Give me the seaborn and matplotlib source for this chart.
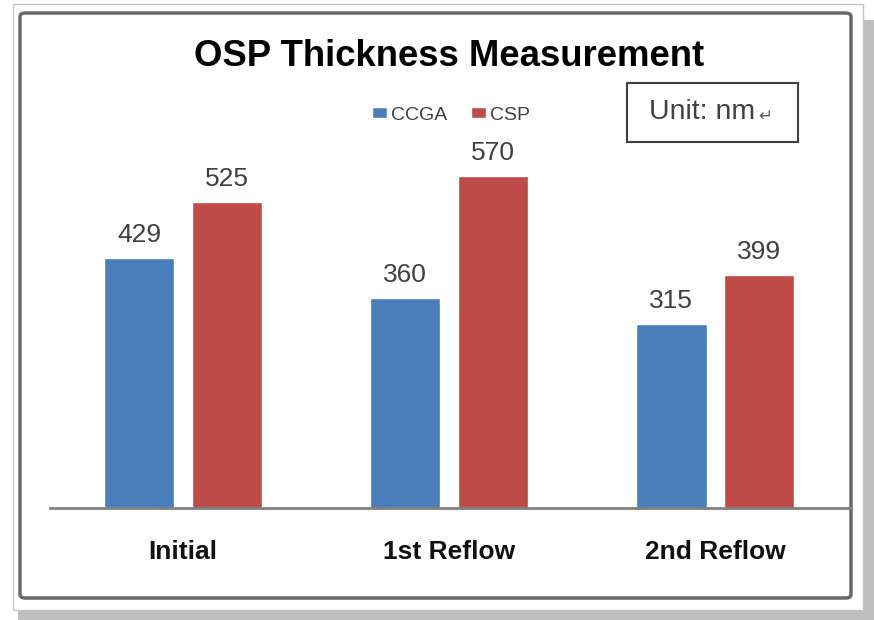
import pandas as pd
import seaborn as sns
import matplotlib.pyplot as plt
from matplotlib.patches import Rectangle, FancyBboxPatch

# chart values
categories = ['Initial', '1st Reflow', '2nd Reflow']
series = ['CCGA', 'CSP']
ccga_nm = [429, 360, 315]
csp_nm = [525, 570, 399]

df = pd.DataFrame({
    'stage': categories * 2,
    'series': [series[0]] * 3 + [series[1]] * 3,
    'thickness': ccga_nm + csp_nm,
})

sns.set_style('white')
plt.rcParams['font.family'] = ['Liberation Sans', 'DejaVu Sans']

W, H = 874, 620
fig = plt.figure(figsize=(W / 100, H / 100), dpi=100)


def fx(x):
    return x / W


def fy(y):
    return 1 - y / H


# frame: shadow, white page, rounded inner border (kept behind the axes)
fig.add_artist(Rectangle((fx(18), fy(620)), fx(874) - fx(18), fy(20) - fy(620),
                         transform=fig.transFigure, facecolor='#c0c0c0', edgecolor='none', zorder=-3))
fig.add_artist(Rectangle((fx(13), fy(610)), fx(863) - fx(13), fy(4) - fy(610),
                         transform=fig.transFigure, facecolor='white', edgecolor='#c4c4c4', lw=1, zorder=-2))
fig.add_artist(FancyBboxPatch((fx(20), fy(598)), fx(851) - fx(20), fy(13) - fy(598),
                              boxstyle='round,pad=0,rounding_size=0.006', transform=fig.transFigure,
                              facecolor='white', edgecolor='#6a6a6a', lw=2.5, zorder=-1))

ax = fig.add_axes([fx(50), fy(508), fx(851) - fx(50), fy(60) - fy(508)])
ax.set_zorder(2)
ax.set_facecolor('none')
sns.barplot(data=df, x='stage', y='thickness', hue='series', hue_order=series,
            palette=['#4a7ebb', '#be4b48'], width=0.66, gap=0.2, saturation=1, ax=ax)

px_per_nm = 250 / 429
ax.set_ylim(0, (508 - 60) / px_per_nm)
ax.set_xlim(-0.5, 2.51)

for cont in ax.containers:
    ax.bar_label(cont, padding=8, fontsize=19, color='#404040')

ax.set_xlabel('')
ax.set_ylabel('')
ax.set_yticks([])
ax.tick_params(axis='x', length=0, pad=23)
for lab in ax.get_xticklabels():
    lab.set_fontsize(19)
    lab.set_fontweight('bold')
    lab.set_color('#111111')
for s in ['left', 'right', 'top']:
    ax.spines[s].set_visible(False)
ax.spines['bottom'].set_color('#808080')
ax.spines['bottom'].set_linewidth(2)

handles, labels = ax.get_legend_handles_labels()
ax.legend(handles, labels, loc='center', bbox_to_anchor=(fx(451), fy(115)),
          bbox_transform=fig.transFigure, ncol=2, frameon=False, fontsize=14,
          handlelength=0.8, handleheight=0.45, handletextpad=0.2, columnspacing=1.2,
          labelcolor='#404040')

fig.text(fx(449), fy(56), 'OSP Thickness Measurement', ha='center', va='center',
         fontsize=26.3, fontweight='bold', color='black')

# unit box
fig.add_artist(Rectangle((fx(627), fy(142)), fx(798) - fx(627), fy(83) - fy(142),
                         transform=fig.transFigure, facecolor='white', edgecolor='#404040',
                         lw=1.5, zorder=3))
fig.text(fx(649), fy(112), 'Unit: nm', ha='left', va='center', fontsize=20.5, color='#404040',
         zorder=4)
fig.text(fx(758), fy(116), '↵', ha='left', va='center', fontsize=12, color='#606060',
         family=['DejaVu Sans'], zorder=4)

fig.savefig('out.png', dpi=100)
